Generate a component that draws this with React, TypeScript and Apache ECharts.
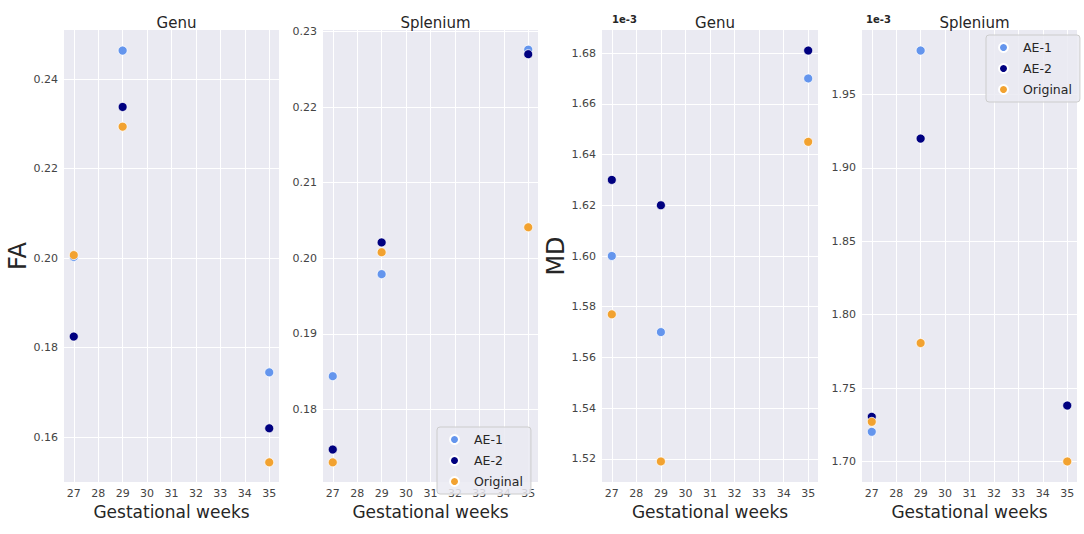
import React, { useEffect, useRef } from "react";
import * as echarts from "echarts";

// x positions (gestational weeks)
const weeks = [27, 29, 35];
const xTicks = [27, 28, 29, 30, 31, 32, 33, 34, 35];

// FA – Genu
const faGenuAE1 = [0.2003, 0.2464, 0.1745];
const faGenuAE2 = [0.1825, 0.2338, 0.162];
const faGenuOrig = [0.2007, 0.2294, 0.1544];
// FA – Splenium
const faSplAE1 = [0.1844, 0.1979, 0.2276];
const faSplAE2 = [0.1747, 0.2021, 0.227];
const faSplOrig = [0.173, 0.2008, 0.2041];
// MD – Genu (x1e-3)
const mdGenuAE1 = [1.6, 1.57, 1.67];
const mdGenuAE2 = [1.63, 1.62, 1.681];
const mdGenuOrig = [1.577, 1.519, 1.645];
// MD – Splenium (x1e-3)
const mdSplAE1 = [1.7202, 1.98, 1.738];
const mdSplAE2 = [1.7304, 1.92, 1.7381];
const mdSplOrig = [1.727, 1.7807, 1.7];

const yTicks1 = [0.16, 0.18, 0.2, 0.22, 0.24];
const yTicks2 = [0.18, 0.19, 0.2, 0.21, 0.22, 0.23];
const yTicks3 = [1.52, 1.54, 1.56, 1.58, 1.6, 1.62, 1.64, 1.66, 1.68];
const yTicks4 = [1.7, 1.75, 1.8, 1.85, 1.9, 1.95];

const seriesNames = ["AE-1", "AE-2", "Original"];
const colors = ["#6495ED", "#000080", "#F2A230"];

const FONT = "DejaVu Sans";

export default function App() {
  const ref = useRef<HTMLDivElement>(null);
  useEffect(() => {
    document.body.style.margin = "0";
    const chart = echarts.init(ref.current!, null, { renderer: "svg" });

    const grids = [
      { left: 64, top: 30, width: 215, height: 452 },
      { left: 323, top: 30, width: 215, height: 452 },
      { left: 602, top: 30, width: 216, height: 452 },
      { left: 862, top: 30, width: 215, height: 452 },
    ];
    const yRanges = [
      [0.15, 0.251, yTicks1, 2],
      [0.1704, 0.2302, yTicks2, 2],
      [1.5109, 1.6891, yTicks3, 2],
      [1.686, 1.994, yTicks4, 2],
    ] as any[];
    const yNames = ["FA", "", "MD", ""];
    const panelData = [
      [faGenuAE1, faGenuAE2, faGenuOrig],
      [faSplAE1, faSplAE2, faSplOrig],
      [mdGenuAE1, mdGenuAE2, mdGenuOrig],
      [mdSplAE1, mdSplAE2, mdSplOrig],
    ];
    const titles = ["Genu", "Splenium", "Genu", "Splenium"];

    const xAxis = grids.map((_, i) => ({
      type: "value",
      gridIndex: i,
      min: 26.6,
      max: 35.4,
      name: "Gestational weeks",
      nameLocation: "middle",
      nameGap: 18,
      nameTextStyle: { fontFamily: FONT, fontSize: 17, color: "#262626" },
      axisLine: { show: false },
      axisTick: { show: false, customValues: xTicks },
      axisLabel: {
        customValues: xTicks,
        fontFamily: FONT,
        fontSize: 11,
        color: "#444",
        margin: 6,
      },
      splitLine: { show: true, customValues: xTicks, lineStyle: { color: "#ffffff", width: 1 } },
    }));
    const yAxis = grids.map((_, i) => ({
      type: "value",
      gridIndex: i,
      min: yRanges[i][0],
      max: yRanges[i][1],
      name: yNames[i],
      nameLocation: "middle",
      nameGap: 32,
      nameTextStyle: { fontFamily: FONT, fontSize: 24, color: "#262626" },
      axisLine: { show: false },
      axisTick: { show: false, customValues: yRanges[i][2] },
      axisLabel: {
        customValues: yRanges[i][2],
        fontFamily: FONT,
        fontSize: 11,
        color: "#444",
        margin: 6,
        formatter: (v: number) => v.toFixed(yRanges[i][3]),
      },
      splitLine: { show: true, customValues: yRanges[i][2], lineStyle: { color: "#ffffff", width: 1 } },
    }));

    const series: any[] = [];
    panelData.forEach((group, gi) => {
      group.forEach((vals, si) => {
        series.push({
          type: "scatter",
          name: seriesNames[si],
          xAxisIndex: gi,
          yAxisIndex: gi,
          data: weeks.map((w, k) => [w, vals[k]]),
          symbolSize: 9,
          itemStyle: { color: colors[si], borderColor: "#ffffff", borderWidth: 0.8, opacity: 1 },
          z: 2 + si,
        });
      });
    });

    const legendBase = {
      orient: "vertical",
      data: seriesNames.map((n) => ({ name: n, icon: "circle" })),
      itemWidth: 9,
      itemHeight: 9,
      itemGap: 8,
      padding: [6, 8, 6, 12],
      backgroundColor: "rgba(234,234,242,0.85)",
      borderColor: "#cccccc",
      borderWidth: 1,
      borderRadius: 3,
      textStyle: { fontFamily: FONT, fontSize: 12.5, color: "#262626", padding: [0, 0, 0, 10] },
      selectedMode: false,
    };

    chart.setOption({
      animation: false,
      backgroundColor: "#ffffff",
      color: colors,
      title: titles.map((t, i) => ({
        text: t,
        left: grids[i].left + grids[i].width / 2,
        top: 10,
        textAlign: "center",
        textStyle: { fontFamily: FONT, fontSize: 15, fontWeight: "normal", color: "#262626" },
      })),
      legend: [
        { ...legendBase, left: 437, top: 427 },
        { ...legendBase, left: 986, top: 35 },
      ],
      grid: grids.map((g) => ({ ...g, backgroundColor: "#EAEAF2", show: true, borderWidth: 0 })),
      xAxis,
      yAxis,
      series,
      graphic: [
        { type: "text", left: 612, top: 14, style: { text: "1e-3", fontFamily: FONT, fontSize: 10, fontWeight: "bold", fill: "#262626" } },
        { type: "text", left: 866, top: 14, style: { text: "1e-3", fontFamily: FONT, fontSize: 10, fontWeight: "bold", fill: "#262626" } },
      ],
    });
    return () => chart.dispose();
  }, []);
  return <div ref={ref} style={{ width: 1084, height: 534 }} />;
}
